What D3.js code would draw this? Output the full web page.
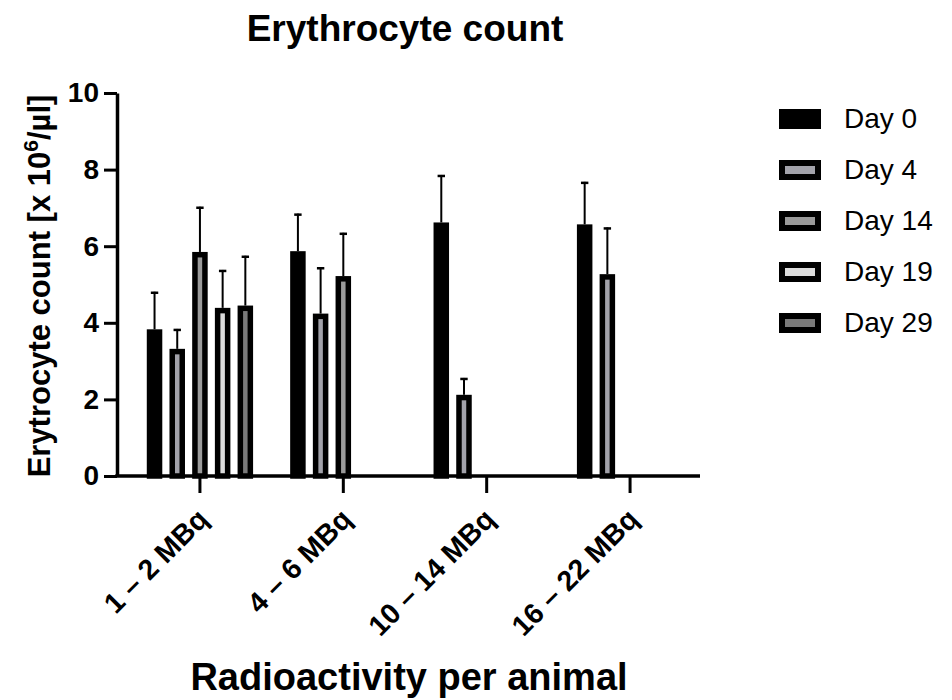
<!DOCTYPE html>
<html>
<head>
<meta charset="utf-8">
<script src="https://cdn.jsdelivr.net/npm/d3@7/dist/d3.min.js"></script>
<style>
  html, body { margin: 0; padding: 0; background: #fff; }
  svg { display: block; }
  text { font-family: "Liberation Sans", Arial, Helvetica, sans-serif; fill: #000; }
</style>
</head>
<body>
<svg id="chart" width="952" height="700"></svg>
<script>
// ---- data ----
const groups = ["1 – 2 MBq", "4 – 6 MBq", "10 – 14 MBq", "16 – 22 MBq"];
const days = ["Day 0", "Day 4", "Day 14", "Day 19", "Day 29"];
const day0  = [3.83, 5.87, 6.62, 6.57];
const day4  = [3.32, 4.24, 2.12, 5.27];
const day14 = [5.85, 5.22, null, null];
const day19 = [4.39, null, null, null];
const day29 = [4.45, null, null, null];
const day0Err  = [0.98, 0.98, 1.24, 1.11];
const day4Err  = [0.52, 1.21, 0.44, 1.22];
const day14Err = [1.18, 1.13, null, null];
const day19Err = [0.99, null, null, null];
const day29Err = [1.30, null, null, null];
const yTicks = [0, 2, 4, 6, 8, 10];

const seriesValues = [day0, day4, day14, day19, day29];
const seriesErrors = [day0Err, day4Err, day14Err, day19Err, day29Err];
const fills = ["#000000", "#a2a2aa", "#9a9a9a", "#dcdcdc", "#7a7a7a"];

const svg = d3.select("#chart");

const x0 = 117, xEnd = 700;
const y = d3.scaleLinear().domain([0, 10]).range([476, 93]);
const x = d3.scaleBand().domain(groups).range([128.25, 701.75]).padding(0);
const xi = d3.scaleBand().domain(days).range([-56.75, 56.75]).paddingInner(0.317).paddingOuter(0.1585);

// flatten
const rows = [];
seriesValues.forEach((vals, si) => {
  vals.forEach((v, gi) => {
    if (v != null) rows.push({ day: days[si], si, group: groups[gi], v, e: seriesErrors[si][gi] });
  });
});

const sw = 5.5;
const gBars = svg.append("g");
rows.forEach(d => {
  const cx = x(d.group) + x.bandwidth() / 2 + xi(d.day);
  const w = xi.bandwidth();
  const top = y(d.v);
  const et = y(d.v + d.e);
  const xc = cx + w / 2;
  gBars.append("line").attr("x1", xc).attr("x2", xc).attr("y1", top).attr("y2", et)
    .attr("stroke", "#000").attr("stroke-width", 2);
  gBars.append("line").attr("x1", xc - 3.7).attr("x2", xc + 3.7).attr("y1", et + 1).attr("y2", et + 1)
    .attr("stroke", "#000").attr("stroke-width", 2.5);
  gBars.append("rect")
    .attr("x", cx + sw / 2).attr("y", top + sw / 2)
    .attr("width", w - sw).attr("height", y(0) - top - sw / 2)
    .attr("fill", fills[d.si]).attr("stroke", "#000").attr("stroke-width", sw);
});

// y axis
const yAxis = svg.append("g").attr("transform", `translate(${x0},0)`)
  .call(d3.axisLeft(y).tickValues(yTicks).tickSize(13).tickSizeOuter(0).tickPadding(5).tickFormat(d3.format("d")));
yAxis.select(".domain").attr("stroke", "#000").attr("stroke-width", 3.5);
yAxis.selectAll(".tick line").attr("stroke", "#000").attr("stroke-width", 3);
yAxis.selectAll(".tick text").attr("font-size", 28).attr("font-weight", "bold")
  .attr("font-family", "'Liberation Sans', Arial, sans-serif").attr("fill", "#000");

// x axis
const xAxis = svg.append("g").attr("transform", `translate(0,${y(0)})`)
  .call(d3.axisBottom(x).tickSize(17).tickSizeOuter(0));
xAxis.select(".domain").remove();
xAxis.append("line").attr("x1", x0 - 1.75).attr("x2", xEnd).attr("y1", 0).attr("y2", 0)
  .attr("stroke", "#000").attr("stroke-width", 3.5);
xAxis.selectAll(".tick line").attr("stroke", "#000").attr("stroke-width", 3);
xAxis.selectAll(".tick text")
  .attr("font-size", 28.5).attr("font-weight", "bold")
  .attr("font-family", "'Liberation Sans', Arial, sans-serif").attr("fill", "#000")
  .attr("text-anchor", "end").attr("x", 0).attr("y", 0).attr("dy", null)
  .attr("transform", "translate(10,45) rotate(-45)");

// title
svg.append("text").attr("x", 405).attr("y", 41).attr("text-anchor", "middle")
  .attr("font-size", 37).attr("font-weight", "bold").text("Erythrocyte count");

// x label
svg.append("text").attr("x", 409).attr("y", 690).attr("text-anchor", "middle")
  .attr("font-size", 38).attr("font-weight", "bold").text("Radioactivity per animal");

// y label
const yl = svg.append("text").attr("transform", "translate(50,286) rotate(-90)")
  .attr("text-anchor", "middle").attr("font-size", 31).attr("font-weight", "bold");
yl.append("tspan").text("Erytrocyte count [x 10");
yl.append("tspan").attr("font-size", 21).attr("dy", -12).text("6");
yl.append("tspan").attr("dy", 12).text("/µl]");

// legend
const leg = svg.append("g");
days.forEach((d, i) => {
  const gy = 109 + i * 51;
  leg.append("rect").attr("x", 779 + 3).attr("y", gy + 3).attr("width", 42 - 6).attr("height", 20 - 6)
    .attr("fill", fills[i]).attr("stroke", "#000").attr("stroke-width", 6);
  leg.append("text").attr("x", 844).attr("y", gy + 19).attr("font-size", 28).text(d);
});
</script>
</body>
</html>
